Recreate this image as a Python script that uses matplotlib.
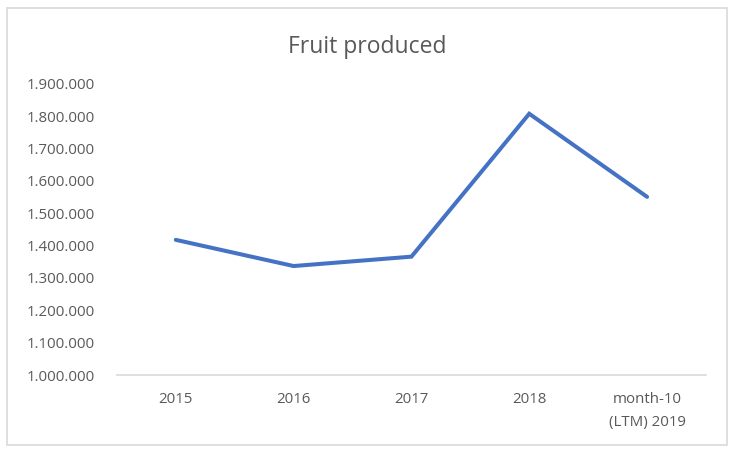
import matplotlib.pyplot as plt
from matplotlib.patches import Rectangle
from matplotlib.ticker import FuncFormatter

# Data
categories = ["2015", "2016", "2017", "2018", "month-10\n(LTM) 2019"]
fruit_produced = [1418000, 1337000, 1366000, 1808000, 1551000]

plt.rcParams['font.family'] = ['Open Sans', 'DejaVu Sans']
text_color = '#595959'

fig = plt.figure(figsize=(7.35, 4.54), dpi=100)
ax = fig.add_axes([0.159, 0.174, 0.8015, 0.641])

x = range(len(categories))
ax.plot(x, fruit_produced, color='#4472C4', linewidth=2.9, solid_capstyle='round',
        solid_joinstyle='miter')

ax.set_xlim(-0.5, len(categories) - 0.5)
ax.set_ylim(1000000, 1900000)
ax.set_yticks(range(1000000, 1900001, 100000))
ax.yaxis.set_major_formatter(FuncFormatter(lambda v, p: f"{int(v):,}".replace(",", ".")))
ax.set_xticks(list(x))
ax.set_xticklabels(categories, linespacing=1.75)

ax.tick_params(axis='y', length=0, pad=16, labelsize=10.8, labelcolor=text_color)
ax.tick_params(axis='x', length=0, pad=12, labelsize=10.8, labelcolor=text_color)

for side in ['top', 'right', 'left']:
    ax.spines[side].set_visible(False)
ax.spines['bottom'].set_color('#D9D9D9')
ax.spines['bottom'].set_linewidth(1.2)

fig.text(0.5, 0.897, "Fruit produced", ha='center', va='center', fontsize=16.5, color=text_color)

# light chart border
fig.patches.append(Rectangle((0.009, 0.02), 0.98, 0.962, transform=fig.transFigure,
                             fill=False, edgecolor='#D9D9D9', linewidth=1.2))

fig.savefig("out.png", dpi=100, facecolor='white')
